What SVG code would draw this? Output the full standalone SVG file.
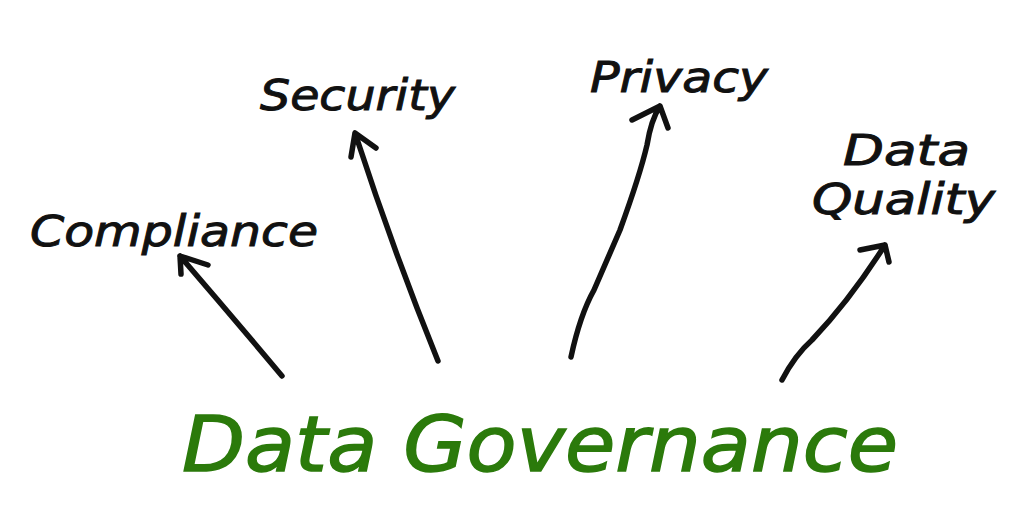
<svg xmlns="http://www.w3.org/2000/svg" width="1024" height="521" viewBox="0 0 1024 521">
<style>
.lbl{font-family:"DejaVu Sans","Liberation Sans",sans-serif;font-style:italic;font-size:43px;fill:#111;stroke:#111;stroke-width:1}
.title{font-family:"DejaVu Sans","Liberation Sans",sans-serif;font-style:italic;font-size:76px;fill:#2b7a0b;stroke:#2b7a0b;stroke-width:1.5}
.arr{fill:none;stroke:#111;stroke-width:5.5;stroke-linecap:round;stroke-linejoin:round}
</style>
<rect width="1024" height="521" fill="#fff"/>
<g id="compliance"><text class="lbl" x="30" y="246" textLength="288" lengthAdjust="spacingAndGlyphs">Compliance</text></g>
<g id="security"><text class="lbl" x="260" y="110" textLength="195" lengthAdjust="spacingAndGlyphs">Security</text></g>
<g id="privacy"><text class="lbl" x="590" y="92" textLength="178" lengthAdjust="spacingAndGlyphs">Privacy</text></g>
<g id="data-quality">
<text class="lbl" x="843" y="165" textLength="127" lengthAdjust="spacingAndGlyphs">Data</text>
<text class="lbl" x="812" y="214" textLength="183" lengthAdjust="spacingAndGlyphs">Quality</text>
</g>
<g id="data-governance"><text class="title" x="182" y="471" textLength="716" lengthAdjust="spacingAndGlyphs">Data Governance</text></g>
<g id="connectors">
<path class="arr" d="M282,376 Q230,314 180,256 M180,256 L181,274 M180,256 L208,265"/>
<path class="arr" d="M438,361 Q393,250 355,133 M355,133 L351,157 M355,133 L376,148"/>
<path class="arr" d="M571,357 Q580,315 594,290 L620,230 Q640,175 647,145 Q651,120 660,106 M660,106 L632,120 M660,106 L668,128"/>
<path class="arr" d="M782,380 Q795,355 812,340 Q850,300 885,245 M885,245 L860,250 M885,245 L889,262"/>
</g>
</svg>
